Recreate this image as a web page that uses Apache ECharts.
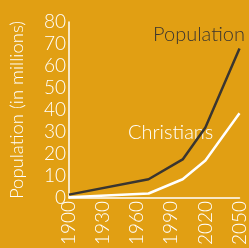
<!DOCTYPE html>
<html>
<head>
<meta charset="utf-8">
<script src="https://cdn.jsdelivr.net/npm/echarts@6/dist/echarts.min.js"></script>
<style>
  html, body { margin: 0; padding: 0; background: #e19f13; }
  #chart { width: 249px; height: 248px; }
</style>
</head>
<body>
<div id="chart"></div>
<script>
const years = [1900, 1970, 2000, 2020, 2050];
const population = [1.5, 8.5, 17.5, 32, 68];
const christians = [0.3, 2, 8.5, 17, 38.5];
const yTicks = [0, 10, 20, 30, 40, 50, 60, 70, 80];

const myChart = echarts.init(document.getElementById("chart"));
const font = "Lato";

const option = {
  backgroundColor: "#e19f13",
  animation: false,
  grid: { left: 65, right: 5, top: 22, bottom: 50 },
  xAxis: {
    type: "value",
    min: 1900,
    max: 2050,
    interval: 30,
    axisLine: { show: true, lineStyle: { color: "#fff", width: 1.5 } },
    axisTick: { show: false },
    splitLine: { show: false },
    axisLabel: {
      rotate: 90,
      color: "#fff",
      fontFamily: font,
      fontWeight: 300,
      fontSize: 19,
      margin: 3,
      showMaxLabel: true,
      formatter: (v) => String(v),
    },
  },
  yAxis: {
    type: "value",
    min: yTicks[0],
    max: yTicks[yTicks.length - 1],
    interval: 10,
    name: "Population (in millions)",
    nameLocation: "middle",
    nameGap: 42,
    nameTextStyle: { color: "#fff", fontFamily: font, fontWeight: 300, fontSize: 18.5 },
    axisLine: { show: true, lineStyle: { color: "#fff", width: 1.5 } },
    axisTick: { show: false },
    splitLine: { show: false },
    axisLabel: { color: "#fff", fontFamily: font, fontWeight: 300, fontSize: 19, margin: 3 },
  },
  series: [
    {
      name: "Population",
      type: "line",
      data: years.map((y, i) => [y, population[i]]),
      symbol: "none",
      lineStyle: { color: "#3a3530", width: 2.5 },
    },
    {
      name: "Christians",
      type: "line",
      data: years.map((y, i) => [y, christians[i]]),
      symbol: "none",
      lineStyle: { color: "#ffffff", width: 2.5 },
    },
  ],
  graphic: [
    {
      type: "text",
      right: 4,
      top: 25,
      style: { text: "Population", fill: "#3a3530", font: "300 20px Lato" },
    },
    {
      type: "text",
      left: 128,
      top: 123,
      style: { text: "Christians", fill: "#fff", font: "300 20px Lato" },
    },
  ],
};

myChart.setOption(option);
</script>
</body>
</html>
